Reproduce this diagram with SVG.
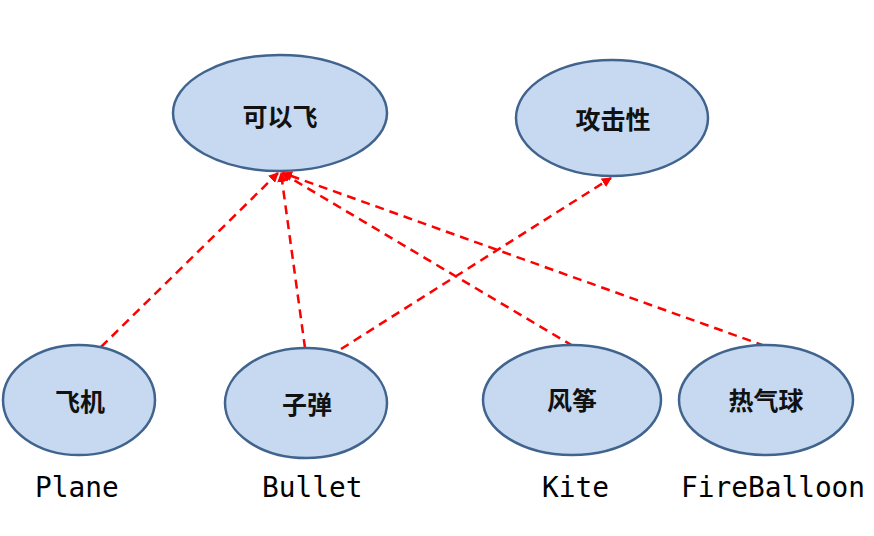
<svg xmlns="http://www.w3.org/2000/svg" width="874" height="536" viewBox="0 0 874 536">
<defs>
<marker id="ah" viewBox="0 0 10 10" refX="9" refY="5" markerWidth="4" markerHeight="4" orient="auto" markerUnits="strokeWidth">
<path d="M0,0 L10,5 L0,10 z" fill="#ff0000"/>
</marker>
<style>
.n{fill:#c6d9f0;stroke:#41648e;stroke-width:2.5}
.t{font-family:"Noto Sans CJK SC","Noto Sans",sans-serif;font-size:25px;font-weight:bold;fill:#111;text-anchor:middle;dominant-baseline:central}
.l{font-family:"DejaVu Sans Mono","Liberation Mono",monospace;font-size:27.8px;fill:#000}
.e{stroke:#ff0000;stroke-width:2.5;stroke-dasharray:9 6;fill:none;marker-end:url(#ah)}
</style>
</defs>
<rect width="874" height="536" fill="#fff"/>
<g id="connectors">
<line class="e" x1="101" y1="347" x2="278" y2="173"/>
<line class="e" x1="305" y1="348" x2="281" y2="173"/>
<line class="e" x1="341" y1="349" x2="611" y2="178"/>
<line class="e" x1="573" y1="346" x2="282" y2="173"/>
<line class="e" x1="765" y1="346" x2="283" y2="173"/>
</g>
<g id="fly"><ellipse class="n" cx="280" cy="113" rx="107" ry="58"/><text class="t" x="280" y="115">可以飞</text></g>
<g id="attack"><ellipse class="n" cx="612" cy="118" rx="96" ry="58"/><text class="t" x="613" y="118">攻击性</text></g>
<g id="plane"><ellipse class="n" cx="79" cy="400" rx="76" ry="55"/><text class="t" x="80" y="400">飞机</text><text class="l" x="35" y="497">Plane</text></g>
<g id="bullet"><ellipse class="n" cx="306" cy="403" rx="81" ry="55"/><text class="t" x="307" y="403">子弹</text><text class="l" x="262" y="497">Bullet</text></g>
<g id="kite"><ellipse class="n" cx="572" cy="400" rx="89" ry="55"/><text class="t" x="572" y="399">风筝</text><text class="l" x="542" y="497">Kite</text></g>
<g id="balloon"><ellipse class="n" cx="766" cy="400" rx="87" ry="55"/><text class="t" x="766" y="399">热气球</text><text class="l" x="681" y="497">FireBalloon</text></g>
</svg>
